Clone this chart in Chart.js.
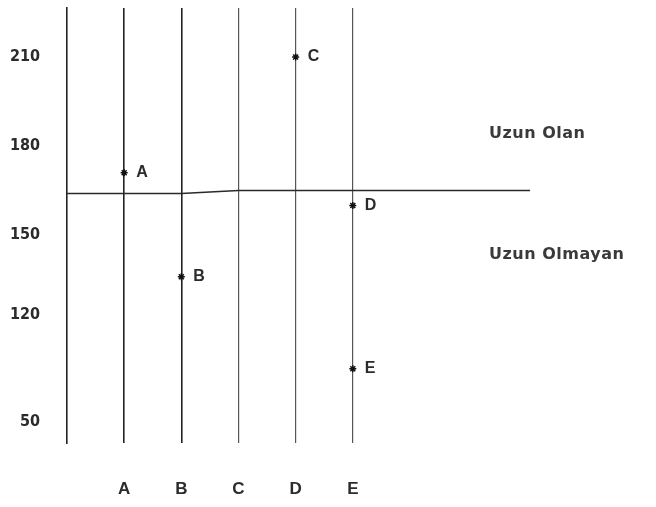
<!DOCTYPE html>
<html>
<head>
<meta charset="utf-8">
<script src="https://cdn.jsdelivr.net/npm/chart.js@4.4.1/dist/chart.umd.min.js"></script>
<style>
  html, body { margin: 0; padding: 0; background: #fff; }
  #wrap { width: 656px; height: 507px; position: relative; }
</style>
</head>
<body>
<div id="wrap"><canvas id="chart"></canvas></div>
<script>
"use strict"

// columns (vertical lines) and the points placed on them
const columns = ['A', 'B', 'C', 'D', 'E'];
const pointNames = ['A', 'B', 'C', 'D', 'E'];
const pointColumn = [0, 1, 3, 4, 4];
const pointHeight = [171, 136, 210, 160, 105];

// the dividing line between "long" and "not long"
const thresholdX = [-1, 1, 2, 7.1];
const thresholdY = [164, 164, 165, 165];

// y-axis tick labels as printed, and where they sit on the scale
const yTickLabels = ['210', '180', '150', '120', '50'];
const yTickValues = [210, 180, 150, 123, 87];

const regionLabels = ['Uzun Olan', 'Uzun Olmayan'];

const ink = '#2b2b2b';

const textPlugin = {
  id: 'textPlugin',
  afterDatasetsDraw(chart) {
    const ctx = chart.ctx;
    const xs = chart.scales.x, ys = chart.scales.y;
    ctx.save();
    ctx.fillStyle = ink;
    ctx.font = 'bold 16px "Liberation Sans", Arial, sans-serif';
    ctx.textBaseline = 'middle';
    ctx.textAlign = 'left';
    pointNames.forEach((n, i) => {
      ctx.fillText(n, xs.getPixelForValue(pointColumn[i]) + 12, ys.getPixelForValue(pointHeight[i]));
    });
    // side labels above / below the dividing line
    const lineY = ys.getPixelForValue(thresholdY[thresholdY.length - 1]);
    ctx.font = 'bold 16px "DejaVu Sans", sans-serif';
    ctx.fillStyle = '#3a3a3a';
    ctx.letterSpacing = '0.5px';
    ctx.fillText(regionLabels[0], 489, lineY - 57);
    ctx.fillText(regionLabels[1], 489, lineY + 64);
    ctx.restore();
  }
};

new Chart(document.getElementById('chart'), {
  type: 'scatter',
  data: {
    datasets: [{
      label: 'threshold',
      type: 'line',
      data: thresholdX.map((x, i) => ({x: x, y: thresholdY[i]})),
      borderColor: ink,
      borderWidth: 1.5,
      pointRadius: 0,
      tension: 0
    }, {
      label: 'points',
      data: pointColumn.map((x, i) => ({x: x, y: pointHeight[i]})),
      pointStyle: 'star',
      pointRadius: 3.5,
      borderColor: '#111',
      backgroundColor: '#111',
      borderWidth: 1.5
    }]
  },
  options: {
    responsive: true,
    maintainAspectRatio: false,
    animation: false,
    layout: { padding: { top: 8, right: 126, left: 0, bottom: 0 } },
    plugins: { legend: { display: false }, tooltip: { enabled: false } },
    scales: {
      x: {
        type: 'linear',
        min: -1,
        max: 7.1,
        afterBuildTicks: axis => { axis.ticks = columns.map((c, i) => ({value: i})); },
        afterFit: axis => { axis.height = 64; axis.paddingLeft = 0; axis.paddingRight = 0; },
        ticks: {
          callback: v => columns[v],
          padding: 36,
          color: ink,
          font: { family: '"Liberation Sans", Arial, sans-serif', size: 17, weight: 'bold' }
        },
        grid: {
          color: ctx => (ctx.index < 2 ? '#222' : '#555'),
          lineWidth: ctx => (ctx.index < 2 ? 1.6 : 1.2),
          drawTicks: false
        },
        border: { display: false }
      },
      y: {
        type: 'linear',
        min: 80,
        max: 226.5,
        afterBuildTicks: axis => { axis.ticks = yTickValues.map(v => ({value: v})); },
        afterFit: axis => { axis.width = 67; axis.paddingTop = 0; axis.paddingBottom = 0; },
        ticks: {
          callback: (v, i) => yTickLabels[i],
          padding: 27,
          color: ink,
          font: { family: '"DejaVu Sans Condensed", "Liberation Sans", sans-serif', size: 16, weight: 'bold' }
        },
        grid: { display: false, drawTicks: false },
        border: { display: true, color: '#222', width: 1.6 }
      }
    }
  },
  plugins: [textPlugin]
});
</script>
</body>
</html>
